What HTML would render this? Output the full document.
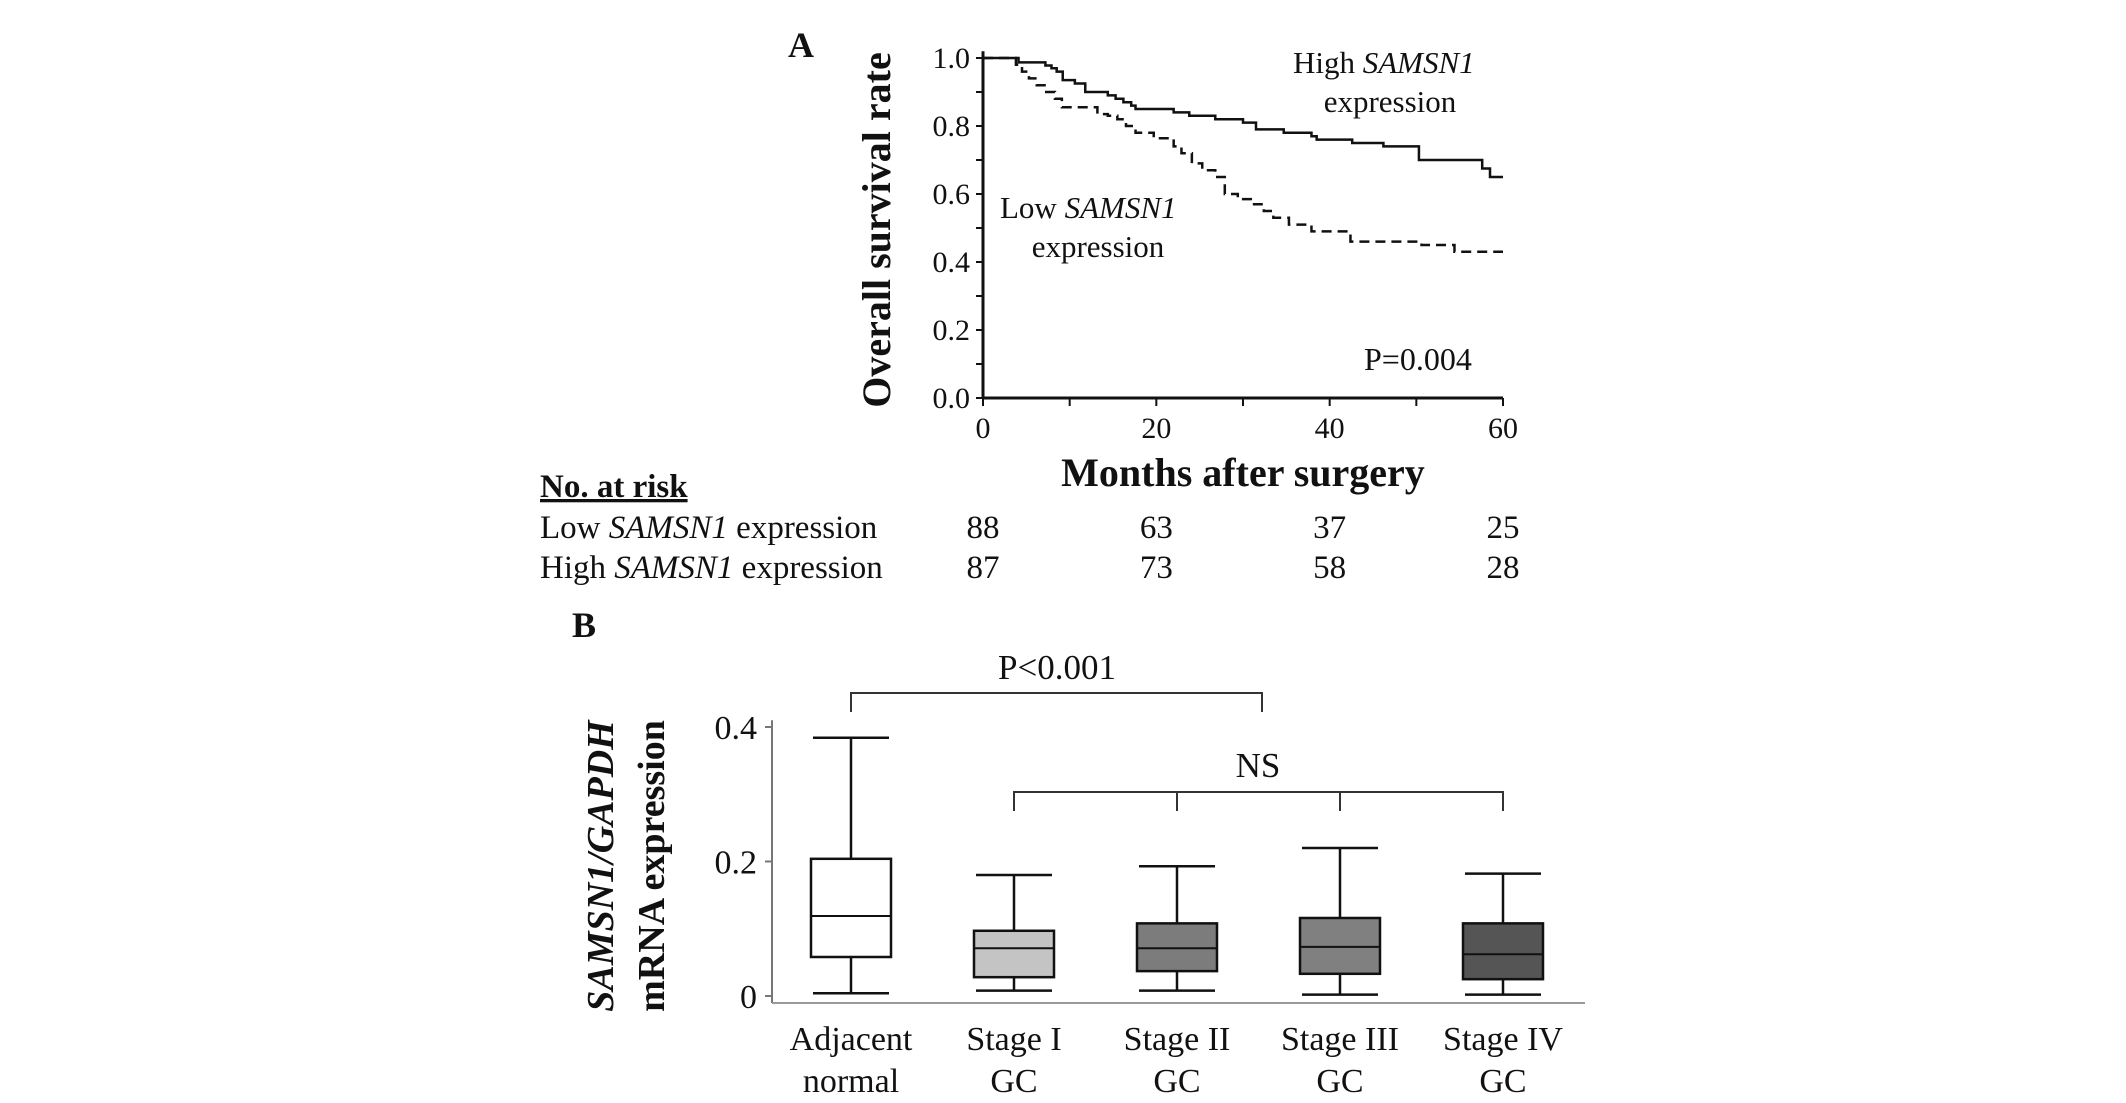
<!DOCTYPE html>
<html><head><meta charset="utf-8"><style>
body{margin:0;background:#fff}
svg{display:block}
text{font-family:"Liberation Serif",serif;fill:#111}
</style></head><body>
<svg id="fig" width="2126" height="1103" viewBox="0 0 2126 1103">
<g id="panelA">
<text x="788" y="57" font-size="36" font-weight="bold">A</text>
<text transform="translate(890,230) rotate(-90)" text-anchor="middle" font-size="40" font-weight="bold">Overall survival rate</text>
<text x="1243" y="486" text-anchor="middle" font-size="40" font-weight="bold">Months after surgery</text>
<g id="kmAxes"></g>
<g id="kmLines"></g>
<text x="1293" y="73" font-size="31">High <tspan font-style="italic">SAMSN1</tspan></text>
<text x="1390" y="112" text-anchor="middle" font-size="31">expression</text>
<text x="1000" y="218" font-size="31">Low  <tspan font-style="italic">SAMSN1</tspan></text>
<text x="1098" y="257" text-anchor="middle" font-size="31">expression</text>
<text x="1364" y="370" font-size="32">P=0.004</text>
<text x="540" y="497" font-size="33" font-weight="bold" text-decoration="underline">No. at risk</text>
<text x="540" y="538" font-size="33">Low <tspan font-style="italic">SAMSN1</tspan> expression</text>
<text x="540" y="578" font-size="33">High <tspan font-style="italic">SAMSN1</tspan> expression</text>
<g id="riskNums"></g>
</g>
<g id="panelB">
<text x="572" y="637" font-size="36" font-weight="bold">B</text>
<text transform="translate(613,866) rotate(-90)" text-anchor="middle" font-size="38" font-weight="bold" font-style="italic">SAMSN1/GAPDH</text>
<text transform="translate(664,866) rotate(-90)" text-anchor="middle" font-size="38" font-weight="bold">mRNA expression</text>
<g id="boxAxes"></g>
<g id="boxes"></g>
<g id="brackets"></g>
</g>
</svg>
<script>
// ---- KM data ----
const highTimes = [0,4.1,7.2,7.9,8.5,9.2,10.6,11.8,14.4,15.3,16.2,17.1,17.6,22,23.8,26.8,30,31.5,34.7,37.9,38.5,42.6,46.2,50.3,57.6,58.5];
const highSurv  = [1.0,0.987,0.978,0.97,0.96,0.935,0.925,0.90,0.89,0.88,0.87,0.86,0.85,0.84,0.83,0.82,0.81,0.79,0.78,0.77,0.76,0.75,0.74,0.70,0.675,0.65];
const lowTimes = [0,3.8,4.5,5.3,6.2,7.3,8.3,9.1,13.2,14.4,15.5,16.5,17.6,19.7,22,22.9,24.1,25.3,26.8,27.9,29.4,30.9,32.4,33.5,35.3,37.9,42.4,50.6,54.4];
const lowSurv  = [1.0,0.98,0.96,0.94,0.92,0.90,0.88,0.855,0.835,0.83,0.82,0.80,0.78,0.764,0.74,0.72,0.69,0.67,0.65,0.60,0.585,0.57,0.55,0.53,0.51,0.49,0.46,0.45,0.43];
const kmYTicks = [0,0.2,0.4,0.6,0.8,1.0];
const kmXTicks = [0,20,40,60];
const riskTimes = [0,20,40,60];
const riskLow = [88,63,37,25];
const riskHigh = [87,73,58,28];
// ---- Box data ----
const boxCats = ["Adjacent|normal","Stage I|GC","Stage II|GC","Stage III|GC","Stage IV|GC"];
const boxMin = [0.004,0.008,0.008,0.002,0.002];
const boxQ1  = [0.058,0.028,0.037,0.033,0.025];
const boxMed = [0.119,0.071,0.071,0.073,0.062];
const boxQ3  = [0.204,0.097,0.108,0.116,0.108];
const boxMax = [0.384,0.180,0.193,0.220,0.182];
const boxFill = ["#ffffff","#c4c4c4","#7c7c7c","#808080","#555555"];
const boxYTicks = [0,0.2,0.4];
const boxYTickLabels = ["0","0.2","0.4"];

const NS="http://www.w3.org/2000/svg";
function mk(tag,attrs,parent){const e=document.createElementNS(NS,tag);for(const k in attrs)e.setAttribute(k,attrs[k]);parent.appendChild(e);return e;}

// KM scales
const kx=t=>983+(t/60)*(1503-983);
const ky=s=>398-s*(398-58);
const kA=document.getElementById('kmAxes');
let e=mk('line',{x1:983,y1:ky(1.02),x2:983,y2:398,stroke:'#111','stroke-width':3},kA);


e=mk('line',{x1:983,y1:398,x2:1503,y2:398,stroke:'#111','stroke-width':3},kA);


for(let i=0;i<=10;i++){const v=i/10;mk('line',{x1:976,y1:ky(v),x2:983,y2:ky(v),stroke:'#111','stroke-width':2},kA);}
kmYTicks.forEach(v=>{const t=mk('text',{x:970,y:ky(v)+10,'text-anchor':'end','font-size':30,fill:'#222'},kA);t.textContent=v.toFixed(1);

});
for(let m=0;m<=60;m+=10){mk('line',{x1:kx(m),y1:398,x2:kx(m),y2:406,stroke:'#111','stroke-width':2},kA);}
kmXTicks.forEach(v=>{const t=mk('text',{x:kx(v),y:438,'text-anchor':'middle','font-size':30,fill:'#222'},kA);t.textContent=v;

});
function stepPath(ts,ss){let d=`M${kx(ts[0])},${ky(ss[0])}`;for(let i=1;i<ts.length;i++){d+=` H${kx(ts[i])} V${ky(ss[i])}`;}d+=` H${kx(60)}`;return d;}
const kL=document.getElementById('kmLines');
e=mk('path',{d:stepPath(highTimes,highSurv),fill:'none',stroke:'#111','stroke-width':2.5},kL);


e=mk('path',{d:stepPath(lowTimes,lowSurv),fill:'none',stroke:'#111','stroke-width':2.5,'stroke-dasharray':'10,6'},kL);


const rN=document.getElementById('riskNums');
riskTimes.forEach((t,i)=>{
 let a=mk('text',{x:kx(t),y:538,'text-anchor':'middle','font-size':33},rN);a.textContent=riskLow[i];
 
 
 let b=mk('text',{x:kx(t),y:578,'text-anchor':'middle','font-size':33},rN);b.textContent=riskHigh[i];
 
 
});

// Box scales
const bx=i=>851+i*163;
const by=v=>996-v*672.5;
const bA=document.getElementById('boxAxes');
e=mk('line',{x1:772,y1:by(0.41),x2:772,y2:1003,stroke:'#777','stroke-width':2},bA);


e=mk('line',{x1:772,y1:1003,x2:1585,y2:1003,stroke:'#999','stroke-width':2},bA);


boxYTicks.forEach((v,i)=>{mk('line',{x1:765,y1:by(v),x2:772,y2:by(v),stroke:'#777','stroke-width':2},bA);
 const t=mk('text',{x:757,y:by(v)+12,'text-anchor':'end','font-size':34},bA);t.textContent=boxYTickLabels[i];
 
 });
const bG=document.getElementById('boxes');
boxCats.forEach((c,i)=>{
 const x=bx(i),w=40;
 const g=mk('g',{},bG);
 
 
 mk('line',{x1:x,y1:by(boxMax[i]),x2:x,y2:by(boxMin[i]),stroke:'#111','stroke-width':2.5},g);
 mk('line',{x1:x-38,y1:by(boxMax[i]),x2:x+38,y2:by(boxMax[i]),stroke:'#111','stroke-width':2.5},g);
 mk('line',{x1:x-38,y1:by(boxMin[i]),x2:x+38,y2:by(boxMin[i]),stroke:'#111','stroke-width':2.5},g);
 mk('rect',{x:x-w,y:by(boxQ3[i]),width:2*w,height:by(boxQ1[i])-by(boxQ3[i]),fill:boxFill[i],stroke:'#111','stroke-width':2.5},g);
 mk('line',{x1:x-w,y1:by(boxMed[i]),x2:x+w,y2:by(boxMed[i]),stroke:'#111','stroke-width':2},g);
 const parts=c.split('|');
 let t1=mk('text',{x:x,y:1050,'text-anchor':'middle','font-size':34},bG);t1.textContent=parts[0];
 
 
 let t2=mk('text',{x:x,y:1092,'text-anchor':'middle','font-size':34},bG);t2.textContent=parts[1];
 
 
});
const br=document.getElementById('brackets');
e=mk('path',{d:`M${bx(0)},712 V693 H1262 V712`,fill:'none',stroke:'#333','stroke-width':2},br);


e=mk('text',{x:1057,y:679,'text-anchor':'middle','font-size':35},br);e.textContent='P<0.001';


e=mk('path',{d:`M${bx(1)},811 V792 H${bx(4)} V811 M${bx(2)},792 V811 M${bx(3)},792 V811`,fill:'none',stroke:'#333','stroke-width':2},br);


e=mk('text',{x:1258,y:777,'text-anchor':'middle','font-size':35},br);e.textContent='NS';


</script>
</body></html>
